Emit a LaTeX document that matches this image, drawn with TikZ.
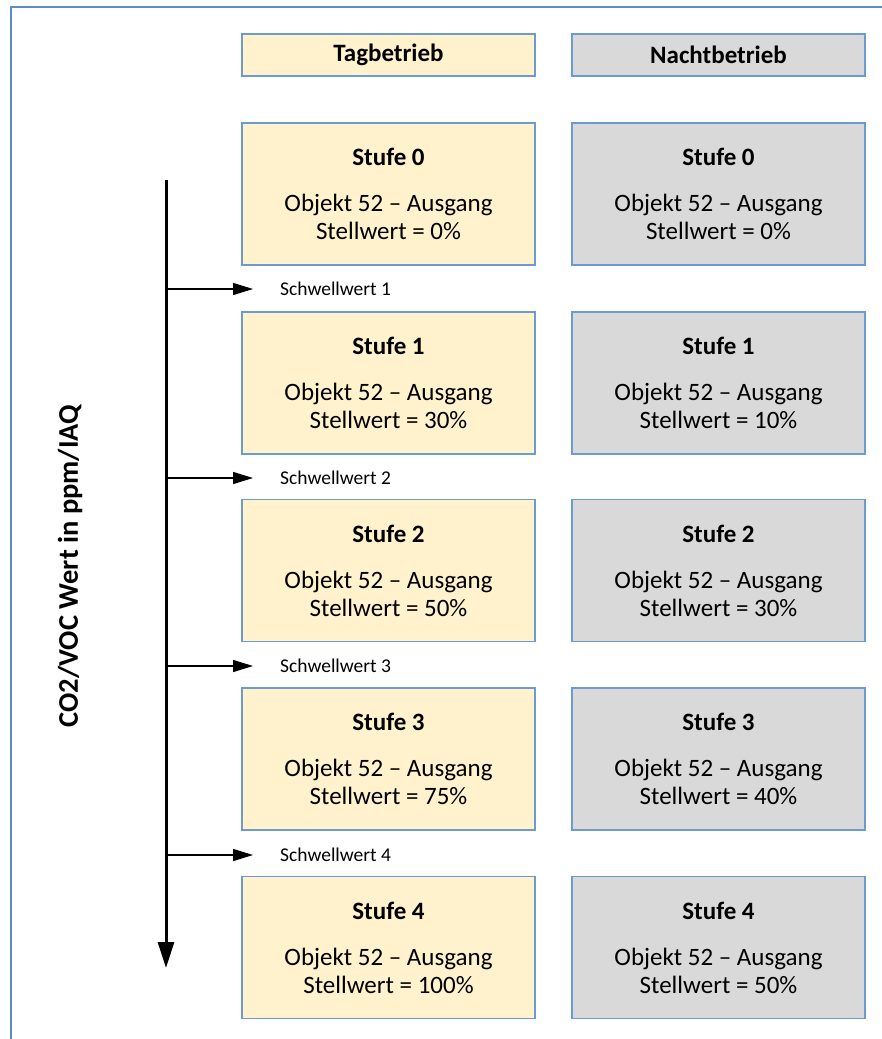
\documentclass[tikz,border=0pt]{standalone}
\usepackage{fontspec}
\setmainfont{Carlito}
\usetikzlibrary{arrows.meta}

\definecolor{rahmen}{HTML}{5B8BCB}
\definecolor{boxblau}{HTML}{6C9BD2}
\definecolor{tagfarbe}{HTML}{FFF2CC}
\definecolor{nachtfarbe}{HTML}{D9D9D9}

\begin{document}
\begin{tikzpicture}[x=1pt,y=-1pt,
	box/.style={draw=boxblau, line width=1.2pt, minimum width=293pt, minimum height=142pt,
		align=center, inner sep=0pt, font=\fontsize{25}{28}\selectfont},
	tagbox/.style={box, fill=tagfarbe},
	nachtbox/.style={box, fill=nachtfarbe},
	kopf/.style={minimum height=42pt, font=\fontsize{25}{28}\selectfont\bfseries},
	schwelle/.style={anchor=west, inner sep=0pt, font=\fontsize{19.5}{22}\selectfont},
	pfeil/.style={line width=1.4pt, -{Triangle[length=20pt,width=12pt]}}]
	\useasboundingbox (0,0) rectangle (882,1039);
	\draw[rahmen, line width=2pt] (11,1039) -- (11,7) -- (882,7);
	% Kopfzeile
		\node[tagbox, kopf]   (tag)   at (388.5,55) {Tagbetrieb};
		\node[nachtbox, kopf] (nacht) at (718.5,55) {Nachtbetrieb};
	% Tagbetrieb
		\node[tagbox] (t0) at (388.5,194)   {\textbf{Stufe 0}\\[18pt]Objekt 52 -- Ausgang\\Stellwert = 0\%};
		\node[tagbox] (t1) at (388.5,383)   {\textbf{Stufe 1}\\[18pt]Objekt 52 -- Ausgang\\Stellwert = 30\%};
		\node[tagbox] (t2) at (388.5,570.5) {\textbf{Stufe 2}\\[18pt]Objekt 52 -- Ausgang\\Stellwert = 50\%};
		\node[tagbox] (t3) at (388.5,759)   {\textbf{Stufe 3}\\[18pt]Objekt 52 -- Ausgang\\Stellwert = 75\%};
		\node[tagbox] (t4) at (388.5,947.5) {\textbf{Stufe 4}\\[18pt]Objekt 52 -- Ausgang\\Stellwert = 100\%};
	% Nachtbetrieb
		\node[nachtbox] (n0) at (718.5,194)   {\textbf{Stufe 0}\\[18pt]Objekt 52 -- Ausgang\\Stellwert = 0\%};
		\node[nachtbox] (n1) at (718.5,383)   {\textbf{Stufe 1}\\[18pt]Objekt 52 -- Ausgang\\Stellwert = 10\%};
		\node[nachtbox] (n2) at (718.5,570.5) {\textbf{Stufe 2}\\[18pt]Objekt 52 -- Ausgang\\Stellwert = 30\%};
		\node[nachtbox] (n3) at (718.5,759)   {\textbf{Stufe 3}\\[18pt]Objekt 52 -- Ausgang\\Stellwert = 40\%};
		\node[nachtbox] (n4) at (718.5,947.5) {\textbf{Stufe 4}\\[18pt]Objekt 52 -- Ausgang\\Stellwert = 50\%};
	% Achse
		\node[rotate=90, font=\fontsize{28.5}{32}\selectfont\bfseries] (achse) at (70,566) {CO2/VOC Wert in ppm/IAQ};
		\coordinate (oben)  at (166,180);
		\coordinate (unten) at (166,968);
		\draw[line width=3pt, -{Triangle[length=26pt,width=16pt]}] (oben) -- (unten);
	% Schwellwerte
		\node[schwelle] (s1) at (280,289) {Schwellwert 1};
		\node[schwelle] (s2) at (280,478) {Schwellwert 2};
		\node[schwelle] (s3) at (280,666) {Schwellwert 3};
		\node[schwelle] (s4) at (280,855) {Schwellwert 4};
		\coordinate (a1) at (166,289);
		\coordinate (a2) at (166,478);
		\coordinate (a3) at (166,666);
		\coordinate (a4) at (166,855);
		\draw[pfeil, shorten >=27pt] (a1) -- (s1.west);
		\draw[pfeil, shorten >=27pt] (a2) -- (s2.west);
		\draw[pfeil, shorten >=27pt] (a3) -- (s3.west);
		\draw[pfeil, shorten >=27pt] (a4) -- (s4.west);
\end{tikzpicture}
\end{document}
